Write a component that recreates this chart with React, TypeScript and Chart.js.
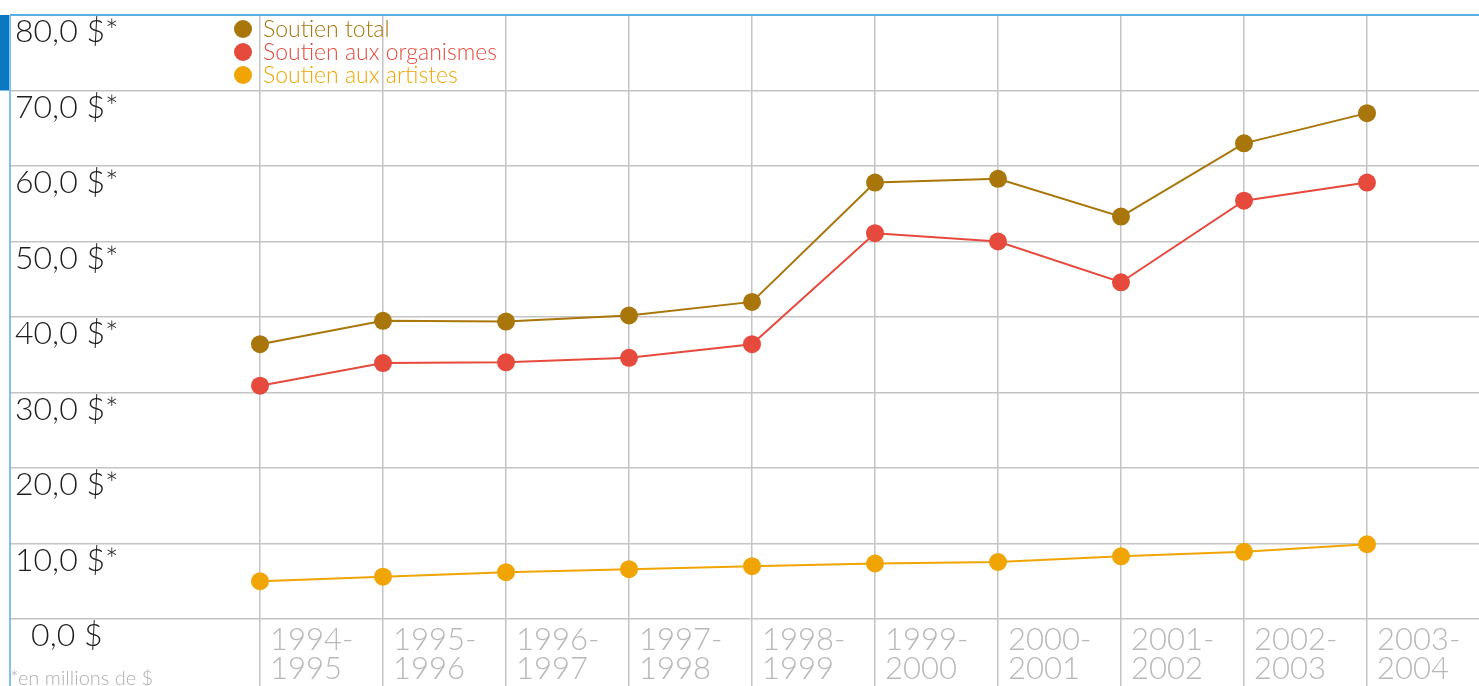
import React, { useEffect, useRef } from "react";
import { Chart, registerables } from "chart.js";

Chart.register(...registerables);

const categories = [
  "1994-1995", "1995-1996", "1996-1997", "1997-1998", "1998-1999",
  "1999-2000", "2000-2001", "2001-2002", "2002-2003", "2003-2004",
];
const soutienTotal = [36.4, 39.5, 39.4, 40.2, 42.0, 57.8, 58.3, 53.3, 63.0, 67.0];
const soutienOrganismes = [30.9, 33.9, 34.0, 34.6, 36.4, 51.1, 50.0, 44.6, 55.4, 57.8];
const soutienArtistes = [5.0, 5.6, 6.2, 6.6, 7.0, 7.35, 7.55, 8.3, 8.9, 9.9];
const seriesNames = ["Soutien total", "Soutien aux organismes", "Soutien aux artistes"];
const seriesColors = ["#a8760a", "#e64a3d", "#f0a504"];
const yTickValues = [0, 10, 20, 30, 40, 50, 60, 70, 80];
const footnote = "*en millions de $";

const FONT = "Lato, 'Open Sans', sans-serif";
const BLUE = "#0a78c2";
const LIGHT_BLUE = "#5aaee2";
const GRID = "#c4c4c4";

const fmtY = (v: number) => v.toFixed(1).replace(".", ",") + " $" + (v === 0 ? "" : "*");

const decorPlugin = {
  id: "decor",
  afterDraw(chart: any) {
    const { ctx, chartArea } = chart;
    ctx.save();
    ctx.strokeStyle = LIGHT_BLUE;
    ctx.lineWidth = 1.5;
    ctx.beginPath();
    ctx.moveTo(chartArea.left, chartArea.top);
    ctx.lineTo(chartArea.left, chart.height);
    ctx.stroke();
    const y = chart.scales.y;
    ctx.fillStyle = BLUE;
    ctx.fillRect(0, y.getPixelForValue(80), 9, y.getPixelForValue(70) - y.getPixelForValue(80));
    const x0 = 243;
    const yStart = 29;
    const step = 23;
    ctx.font = `300 23px ${FONT}`;
    ctx.textBaseline = "middle";
    ctx.textAlign = "left";
    chart.data.datasets.forEach((ds: any, i: number) => {
      const cy = yStart + i * step;
      ctx.fillStyle = ds.borderColor;
      ctx.beginPath();
      ctx.arc(x0, cy, 9, 0, Math.PI * 2);
      ctx.fill();
      ctx.fillText(ds.label, x0 + 20, cy + 1);
    });
    ctx.restore();
  },
};

export default function App() {
  const ref = useRef<HTMLCanvasElement>(null);
  useEffect(() => {
    const makeDs = (label: string, data: number[], color: string) => ({
      label,
      data: data.map((v, i) => ({ x: i, y: v })),
      borderColor: color,
      backgroundColor: color,
      borderWidth: 2,
      pointRadius: 9,
      pointHoverRadius: 9,
      pointBorderWidth: 0,
      tension: 0,
    });
    const chart = new Chart(ref.current!, {
      type: "line",
      data: {
        datasets: [
          makeDs(seriesNames[0], soutienTotal, seriesColors[0]),
          makeDs(seriesNames[1], soutienOrganismes, seriesColors[1]),
          makeDs(seriesNames[2], soutienArtistes, seriesColors[2]),
        ],
      },
      options: {
        animation: false,
        responsive: false,
        layout: { autoPadding: false, padding: { top: 15, left: 10, right: 0, bottom: 0 } },
        plugins: { legend: { display: false }, tooltip: { enabled: false } },
        scales: {
          x: {
            type: "linear",
            min: -250 / 123,
            max: categories.length - 1 + 112 / 123,
            afterBuildTicks: (scale: any) => {
              scale.ticks = categories.map((_, i) => ({ value: i }));
            },
            afterFit: (scale: any) => {
              scale.height = 67;
              scale.paddingLeft = 0;
              scale.paddingRight = 0;
              scale.paddingTop = 0;
              scale.paddingBottom = 0;
            },
            grid: {
              color: GRID,
              lineWidth: 1.5,
              drawTicks: true,
              tickLength: 67,
              tickColor: GRID,
              tickWidth: 1.5,
            },
            border: { display: false },
            ticks: {
              autoSkip: false,
              maxRotation: 0,
              align: "start",
              labelOffset: 10,
              padding: -60,
              color: "#b8b8b8",
              font: { family: FONT, size: 31, weight: "300", lineHeight: 0.93 },
              callback: (_v: any, i: number) => {
                const [a, b] = categories[i].split("-");
                return [a + "-", b];
              },
            },
          },
          y: {
            min: 0,
            max: 80,
            afterBuildTicks: (scale: any) => {
              scale.ticks = yTickValues.map((v) => ({ value: v }));
            },
            afterFit: (scale: any) => {
              scale.width = 0;
              scale.paddingLeft = 0;
              scale.paddingRight = 0;
              scale.paddingTop = 0;
              scale.paddingBottom = 0;
            },
            grid: {
              color: (c: any) => (c.tick && c.tick.value === 80 ? LIGHT_BLUE : GRID),
              lineWidth: (c: any) => (c.tick && c.tick.value === 80 ? 2 : 1.5),
              drawTicks: false,
            },
            border: { display: false },
            ticks: {
              mirror: true,
              crossAlign: "center",
              padding: 5,
              labelOffset: 17,
              color: "#1e1e1e",
              font: { family: FONT, size: 32, weight: "300" },
              callback: (v: any) => fmtY(Number(v)),
            },
          },
        },
      },
      plugins: [decorPlugin],
    } as any);
    return () => chart.destroy();
  }, []);
  return (
    <div style={{ position: "fixed", left: 0, top: 0, width: 1479, height: 686, background: "#fff", overflow: "hidden" }}>
      <canvas ref={ref} width={1479} height={686} />
      <span
        style={{
          position: "absolute",
          left: 10,
          top: 668,
          fontFamily: FONT,
          fontWeight: 300,
          fontSize: 20,
          color: "#b0b0b0",
          whiteSpace: "nowrap",
          lineHeight: "18px",
        }}
      >
        {footnote}
      </span>
    </div>
  );
}
